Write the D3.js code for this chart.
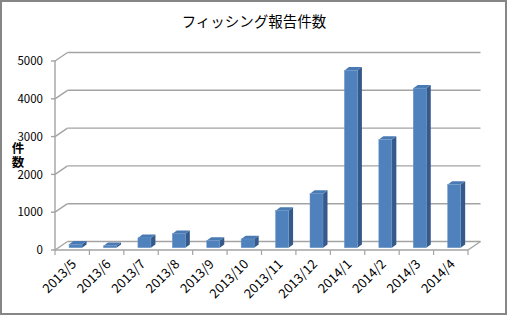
<!DOCTYPE html>
<html><head><meta charset="utf-8">
<script src="https://cdn.jsdelivr.net/npm/d3@7"></script>
<style>html,body{margin:0;padding:0;background:#fff;}svg{display:block;}</style>
</head><body>
<svg id="c" width="508" height="317"></svg>
<script>
const categories = ["2013/5","2013/6","2013/7","2013/8","2013/9","2013/10","2013/11","2013/12","2014/1","2014/2","2014/3","2014/4"];
const values = [90, 50, 260, 370, 190, 230, 980, 1430, 4690, 2860, 4220, 1670];
const yTicks = [0, 1000, 2000, 3000, 4000, 5000];
const titleText = "フィッシング報告件数";
const yTitle = "件数";

const svg = d3.select("#c");
const font = "'Noto Sans CJK JP', 'Noto Sans', sans-serif";

svg.append("rect").attr("x", 1).attr("y", 1).attr("width", 505).attr("height", 313)
  .attr("fill", "#fff").attr("stroke", "#868686").attr("stroke-width", 2);

const x = d3.scaleBand().domain(categories).range([55, 468]).paddingInner(0).paddingOuter(0);
const y = d3.scaleLinear().domain([0, 5000]).range([250, 61]);
const DX = 12.5, DY = -8.5;
const grid = "#a3a3a3";

const g = svg.append("g");
yTicks.forEach(t => {
  g.append("line").attr("x1", 55 + DX).attr("x2", 468 + DX)
    .attr("y1", y(t) + DY).attr("y2", y(t) + DY)
    .attr("stroke", grid).attr("stroke-width", 1.4);
  g.append("line").attr("x1", 55).attr("x2", 55 + DX)
    .attr("y1", y(t)).attr("y2", y(t) + DY)
    .attr("stroke", grid).attr("stroke-width", 1.4);
});
g.append("line").attr("x1", 468).attr("x2", 468 + DX).attr("y1", y(0)).attr("y2", y(0) + DY)
  .attr("stroke", grid).attr("stroke-width", 1.4);
g.append("line").attr("x1", 55).attr("x2", 55).attr("y1", y(5000)).attr("y2", y(0))
  .attr("stroke", grid).attr("stroke-width", 1.4);
yTicks.forEach(t => {
  g.append("line").attr("x1", 51).attr("x2", 55).attr("y1", y(t)).attr("y2", y(t))
    .attr("stroke", grid).attr("stroke-width", 1.4);
  g.append("text").attr("x", 43).attr("y", y(t)).attr("dy", "0.36em")
    .attr("text-anchor", "end").attr("font-family", font).attr("font-size", 11.5)
    .attr("fill", "#000").text(t);
});

const f = 0.27;
const fx = f * DX, fy = f * DY;
const bw = 13;
const ddx = 4.5, ddy = -3.3;
const bars = g.selectAll("g.bar").data(categories.map((c, i) => ({c, v: values[i]}))).enter().append("g");
bars.each(function(d) {
  const gg = d3.select(this);
  const x0 = x(d.c) + (x.bandwidth() - bw) / 2 + fx;
  const yb = y(0) + fy, yt = y(d.v) + fy;
  gg.append("path").attr("d", `M${x0 + bw},${yb}L${x0 + bw + ddx},${yb + ddy}L${x0 + bw + ddx},${yt + ddy}L${x0 + bw},${yt}Z`)
    .attr("fill", "#34598A");
  gg.append("path").attr("d", `M${x0},${yt}L${x0 + ddx},${yt + ddy}L${x0 + bw + ddx},${yt + ddy}L${x0 + bw},${yt}Z`)
    .attr("fill", "#4A7AB4");
  gg.append("rect").attr("x", x0).attr("y", yt).attr("width", bw).attr("height", yb - yt)
    .attr("fill", "#4F81BD").attr("stroke", "#6f98c8").attr("stroke-width", 0.5);
});

g.append("line").attr("x1", 55).attr("x2", 468).attr("y1", y(0)).attr("y2", y(0))
  .attr("stroke", grid).attr("stroke-width", 1.4);
categories.concat(["_end"]).forEach((c, i) => {
  const xx = 55 + i * x.bandwidth();
  g.append("line").attr("x1", xx).attr("x2", xx).attr("y1", y(0)).attr("y2", y(0) + 5)
    .attr("stroke", grid).attr("stroke-width", 1.2);
});
categories.forEach(c => {
  const cx = x(c) + x.bandwidth() / 2 + 5;
  g.append("text").attr("transform", `translate(${cx},265) rotate(-45)`)
    .attr("text-anchor", "end")
    .attr("font-family", font).attr("font-size", 13).attr("fill", "#000").text(c);
});

svg.append("text").attr("x", 254).attr("y", 22).attr("dy", "0.36em").attr("text-anchor", "middle")
  .attr("font-family", font).attr("font-size", 14.5).attr("fill", "#000").text(titleText);
svg.append("text").attr("x", 18).attr("y", 141.5).attr("writing-mode", "vertical-rl")
  .attr("font-family", font).attr("font-size", 12.5).attr("letter-spacing", 1.5)
  .attr("font-weight", "bold").attr("fill", "#000").text(yTitle);
</script>
</body></html>
